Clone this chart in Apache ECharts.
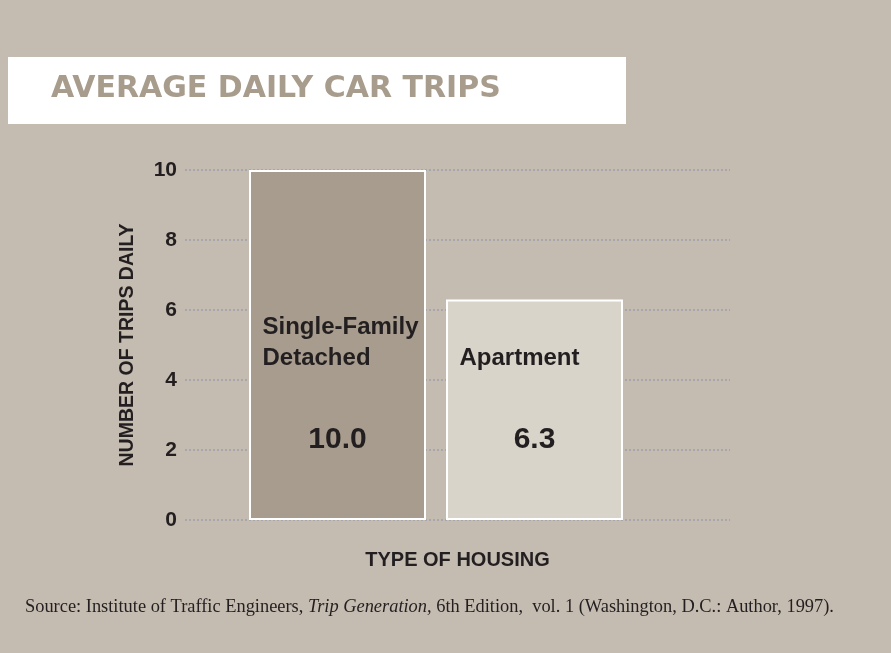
<!DOCTYPE html>
<html>
<head>
<meta charset="utf-8">
<title>Average Daily Car Trips</title>
<script src="https://cdn.jsdelivr.net/npm/echarts@6/dist/echarts.min.js"></script>
<style>
  html, body { margin: 0; padding: 0; background: #c5bcb1; }
  #chart { width: 891px; height: 653px; }
</style>
</head>
<body>
<div id="chart"></div>
<script>
const categories = ['Single-Family\nDetached', 'Apartment']
const trips = [10.0, 6.3]
const valueLabels = ['10.0', '6.3']
const barColors = ['#a79c8d', '#d8d4ca']
const yTicks = [0, 2, 4, 6, 8, 10]

const sans = '"Liberation Sans", Arial, sans-serif'
const ink = '#231f20'

const chart = echarts.init(document.getElementById('chart'))

chart.setOption({
  backgroundColor: '#c5bcb1',
  animation: false,
  graphic: [
    {
      type: 'rect',
      z: 0,
      shape: { x: 8, y: 57, width: 618, height: 67 },
      style: { fill: '#ffffff' }
    }
  ],
  title: [
    {
      text: 'AVERAGE DAILY CAR TRIPS',
      left: 51,
      top: 74,
      padding: 0,
      z: 5,
      textStyle: {
        fontFamily: '"DejaVu Sans", sans-serif',
        fontWeight: 'bold',
        fontSize: 30,
        color: '#a89c8c'
      }
    },
    {
      text: 'Source: Institute of Traffic Engineers, {i|Trip Generation,} 6th Edition,  vol. 1 (Washington, D.C.: Author, 1997).',
      left: 25,
      top: 598,
      padding: 0,
      textStyle: {
        fontFamily: '"Liberation Serif", serif',
        fontWeight: 'normal',
        fontSize: 18.4,
        color: ink,
        rich: {
          i: {
            fontFamily: '"Liberation Serif", serif',
            fontStyle: 'italic',
            fontSize: 18.4,
            color: ink
          }
        }
      }
    }
  ],
  grid: [
    { left: 185, right: 161, top: 170, bottom: 133 },
    { left: 239, right: 258, top: 170, bottom: 133 }
  ],
  xAxis: [
    {
      gridIndex: 0,
      type: 'category',
      data: [''],
      axisLine: { show: false },
      axisTick: { show: false },
      axisLabel: { show: false },
      name: 'TYPE OF HOUSING',
      nameLocation: 'middle',
      nameGap: 30,
      nameTextStyle: {
        fontFamily: sans,
        fontWeight: 'bold',
        fontSize: 20,
        color: ink
      }
    },
    {
      gridIndex: 1,
      type: 'category',
      data: categories,
      axisLine: { show: false },
      axisTick: { show: false },
      axisLabel: { show: false }
    }
  ],
  yAxis: [
    {
      gridIndex: 0,
      type: 'value',
      min: yTicks[0],
      max: yTicks[yTicks.length - 1],
      interval: 2,
      axisLine: { show: false },
      axisTick: { show: false },
      axisLabel: {
        margin: 8,
        fontFamily: sans,
        fontWeight: 'bold',
        fontSize: 21,
        color: ink
      },
      splitLine: {
        show: true,
        lineStyle: { color: '#a5a3ad', width: 1.8, type: [2, 2] }
      },
      name: 'NUMBER OF TRIPS DAILY',
      nameLocation: 'middle',
      nameRotate: 90,
      nameGap: 47,
      nameTextStyle: {
        fontFamily: sans,
        fontWeight: 'bold',
        fontSize: 19.5,
        color: ink
      }
    },
    {
      gridIndex: 1,
      type: 'value',
      min: 0,
      max: 10,
      show: false,
      splitLine: { show: false }
    }
  ],
  series: [
    {
      type: 'bar',
      xAxisIndex: 1,
      yAxisIndex: 1,
      barWidth: 177,
      z: 3,
      data: trips.map((v, i) => ({
        value: v,
        itemStyle: { color: barColors[i] }
      })),
      itemStyle: {
        borderColor: '#ffffff',
        borderWidth: 2
      },
      label: {
        show: true,
        position: 'insideBottom',
        distance: 15,
        width: 150,
        formatter: (p) => {
          const lines = categories[p.dataIndex].split('\n').map(s => '{n|' + s + '}')
          return lines.join('\n') + '\n{v|' + valueLabels[p.dataIndex] + '}'
        },
        rich: {
          n: {
            fontFamily: sans,
            fontWeight: 'bold',
            fontSize: 24,
            lineHeight: 31,
            color: ink,
            align: 'left'
          },
          v: {
            fontFamily: sans,
            fontWeight: 'bold',
            fontSize: 30,
            lineHeight: 131,
            color: ink,
            align: 'center'
          }
        }
      }
    }
  ]
})
</script>
</body>
</html>
